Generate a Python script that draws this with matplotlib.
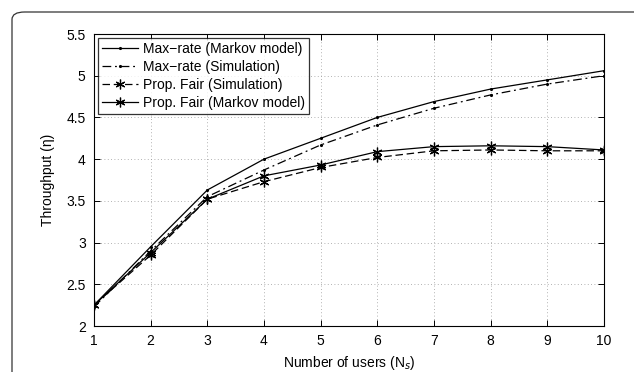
import matplotlib.pyplot as plt
from matplotlib.patches import FancyBboxPatch

plt.rcParams['font.family'] = ['Liberation Sans', 'DejaVu Sans']

users = [1, 2, 3, 4, 5, 6, 7, 8, 9, 10]
maxrate_markov = [2.25, 2.95, 3.63, 4.00, 4.25, 4.50, 4.69, 4.84, 4.95, 5.06]
maxrate_sim = [2.23, 2.90, 3.55, 3.87, 4.17, 4.41, 4.61, 4.77, 4.90, 5.00]
pf_sim = [2.25, 2.85, 3.52, 3.73, 3.90, 4.02, 4.10, 4.11, 4.10, 4.10]
pf_markov = [2.25, 2.88, 3.52, 3.80, 3.93, 4.09, 4.15, 4.16, 4.15, 4.11]

fig = plt.figure(figsize=(6.34, 3.72), dpi=100)
ax = fig.add_axes([94 / 634, 1 - 326 / 372, 510 / 634, 292 / 372])

# rounded frame around the whole figure
frame = FancyBboxPatch((12 / 634, -0.2), 1.1, 1.2 - 12 / 372,
                       boxstyle="round,pad=0,rounding_size=0.02",
                       transform=fig.transFigure, fill=False,
                       edgecolor='#333333', linewidth=0.9, clip_on=False)
fig.patches.append(frame)

star = (6, 2, 0)
ax.plot(users, maxrate_markov, '-', color='black', lw=0.9, marker='.', ms=2.5,
        label='Max\u2212rate (Markov model)')
ax.plot(users, maxrate_sim, color='black', lw=0.9, marker='.', ms=2.5,
        dashes=(7, 3, 1.5, 3), label='Max\u2212rate (Simulation)')
ax.plot(users, pf_sim, color='black', lw=0.9, marker=star, ms=7, mew=0.9,
        dashes=(6, 3), label='Prop. Fair (Simulation)')
ax.plot(users, pf_markov, '-', color='black', lw=0.9, marker=star, ms=7, mew=0.9,
        label='Prop. Fair (Markov model)')

ax.set_xlim(1, 10)
ax.set_ylim(2, 5.5)
ax.set_xticks(users)
ax.set_yticks([2, 2.5, 3, 3.5, 4, 4.5, 5, 5.5])
ax.set_yticklabels(['2', '2.5', '3', '3.5', '4', '4.5', '5', '5.5'])
ax.tick_params(direction='in', labelsize=10, length=4, width=0.7,
               top=True, right=True, pad=6)
ax.grid(True, linestyle=(0, (1, 3)), color='#999999', linewidth=0.6)
for s in ax.spines.values():
    s.set_linewidth(0.8)

ax.set_xlabel('Number of users (N$_s$)', fontsize=10, labelpad=4)
ax.set_ylabel('Throughput (\u03b7)', fontsize=10, labelpad=8)

leg = ax.legend(loc='upper left', fontsize=10, frameon=True, fancybox=False,
                edgecolor='black', borderpad=0.25, labelspacing=0.3,
                handlelength=2.6, handletextpad=0.4, borderaxespad=0.3)
leg.get_frame().set_linewidth(0.9)

fig.savefig('out.png', dpi=100)
